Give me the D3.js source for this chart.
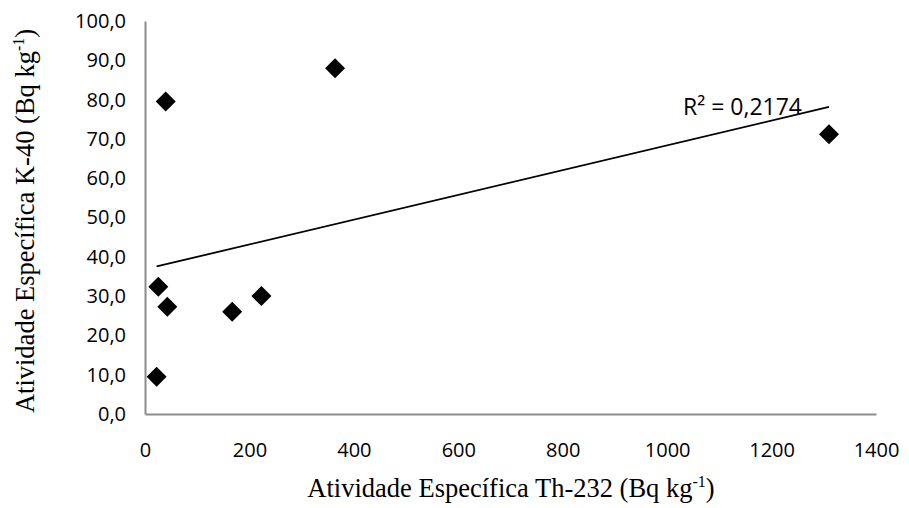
<!DOCTYPE html>
<html>
<head>
<meta charset="utf-8">
<script src="https://cdn.jsdelivr.net/npm/d3@7"></script>
<style>
  body { margin: 0; background: #fff; }
</style>
</head>
<body>
<div id="chart"></div>
<script>

// Th-232 (x) vs K-40 (y), Bq/kg
var th232 = [22.3, 25.5, 39.6, 42.7, 167, 223, 364, 1310];
var k40   = [9.5, 32.4, 79.5, 27.3, 26.0, 30.0, 88.0, 71.2];
var xTicks = [0, 200, 400, 600, 800, 1000, 1200, 1400];
var yTicks = [0, 10, 20, 30, 40, 50, 60, 70, 80, 90, 100];
var r2Label = "R² = 0,2174";

var W = 909, H = 508;

var svg = d3.select("#chart").append("svg")
  .attr("width", W)
  .attr("height", H);

var x = d3.scaleLinear().domain([0, 1400]).range([145, 876]);
var y = d3.scaleLinear().domain([0, 100]).range([414, 21]);

var fmt = function(d) { return d3.format(".1f")(d).replace(".", ","); };

// axes - no tick marks, grey line
var xAxis = svg.append("g")
  .attr("transform", "translate(0," + y(0) + ")")
  .call(d3.axisBottom(x).tickValues(xTicks).tickFormat(d3.format("d")).tickSize(0).tickPadding(36).tickSizeOuter(0));
var yAxis = svg.append("g")
  .attr("transform", "translate(" + x(0) + ",0)")
  .call(d3.axisLeft(y).tickValues(yTicks).tickFormat(fmt).tickSize(0).tickPadding(19).tickSizeOuter(0));

[xAxis, yAxis].forEach(function(g) {
  g.select(".domain").attr("stroke", "#8c8c8c").attr("stroke-width", 2);
  g.selectAll("text")
    .attr("font-family", "Open Sans")
    .attr("font-size", "20px")
    .attr("fill", "#000");
});
xAxis.selectAll("text").attr("dy", "0.35em");

// linear trend line (least squares)
var mx = d3.mean(th232), my = d3.mean(k40);
var sxy = d3.sum(th232, function(v, i) { return (v - mx) * (k40[i] - my); });
var sxx = d3.sum(th232, function(v) { return (v - mx) * (v - mx); });
var slope = sxy / sxx, icpt = my - slope * mx;
var xExt = d3.extent(th232);

svg.append("line")
  .attr("x1", x(xExt[0])).attr("y1", y(icpt + slope * xExt[0]))
  .attr("x2", x(xExt[1])).attr("y2", y(icpt + slope * xExt[1]))
  .attr("stroke", "#000")
  .attr("stroke-width", 1.8);

// diamonds
var r = 10;
svg.selectAll("path.pt")
  .data(th232)
  .enter().append("path")
  .attr("class", "pt")
  .attr("d", "M0," + (-r) + "L" + r + ",0L0," + r + "L" + (-r) + ",0Z")
  .attr("transform", function(d, i) { return "translate(" + x(d) + "," + y(k40[i]) + ")"; })
  .attr("fill", "#000");

// R² label
svg.append("text")
  .attr("x", 683)
  .attr("y", 115)
  .attr("font-family", "Open Sans")
  .attr("font-size", "23px")
  .attr("fill", "#000")
  .text(r2Label);

// axis titles
var xt = svg.append("text")
  .attr("x", 511)
  .attr("y", 497)
  .attr("text-anchor", "middle")
  .attr("font-family", "Liberation Serif")
  .attr("font-size", "26.5px");
xt.append("tspan").text("Atividade Específica Th-232 (Bq kg");
xt.append("tspan").attr("dy", -10).attr("font-size", "16px").text("-1");
xt.append("tspan").attr("dy", 10).text(")");

var yt = svg.append("text")
  .attr("transform", "translate(34,221) rotate(-90)")
  .attr("text-anchor", "middle")
  .attr("font-family", "Liberation Serif")
  .attr("font-size", "26.5px");
yt.append("tspan").text("Atividade Específica K-40 (Bq kg");
yt.append("tspan").attr("dy", -10).attr("font-size", "16px").text("-1");
yt.append("tspan").attr("dy", 10).text(")");

</script>
</body>
</html>
